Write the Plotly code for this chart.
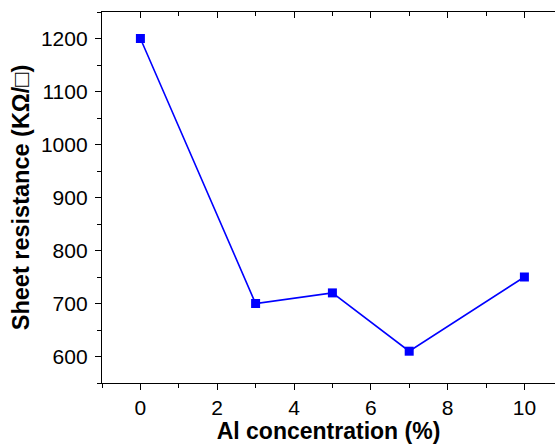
import plotly.graph_objects as go

# Sheet resistance vs. Al doping level
al_concentration = [0, 3, 5, 7, 10]          # Al concentration (%)
sheet_resistance = [1200, 700, 720, 610, 750]  # KΩ/□

x_tickvals = [0, 2, 4, 6, 8, 10]
y_tickvals = [600, 700, 800, 900, 1000, 1100, 1200]

FONT = "Arial, Liberation Sans, sans-serif"
BLUE = "#0000FF"

fig = go.Figure()
fig.add_trace(go.Scatter(
    x=al_concentration,
    y=sheet_resistance,
    mode="lines+markers",
    line=dict(color=BLUE, width=1.6),
    marker=dict(symbol="square", size=9, color=BLUE),
    showlegend=False,
    cliponaxis=False,
))

# companion axis drawing the top frame line with inward ticks
fig.add_trace(go.Scatter(x=[None], y=[None], xaxis="x2", showlegend=False, hoverinfo="skip"))

axis_common = dict(
    showgrid=False,
    zeroline=False,
    showline=True,
    linecolor="black",
    linewidth=1.3,
    tickcolor="black",
    tickwidth=1.3,
)

fig.update_layout(
    width=555,
    height=444,
    margin=dict(l=102, r=0, t=12, b=61),
    paper_bgcolor="white",
    plot_bgcolor="white",
    font=dict(family=FONT, size=21, color="black"),
    xaxis=dict(
        **axis_common,
        range=[-1, 10.797],
        tickvals=x_tickvals,
        ticks="outside",
        ticklen=6,
        minor=dict(dtick=1, tick0=-1, ticks="outside", ticklen=3.5,
                   tickcolor="black", tickwidth=1.3),
        tickfont=dict(size=21),
        title=dict(text="<b>Al concentration (%)</b>", font=dict(size=23), standoff=2),
    ),
    xaxis2=dict(
        **axis_common,
        overlaying="x",
        matches="x",
        side="top",
        tickvals=x_tickvals,
        ticks="inside",
        ticklen=6,
        minor=dict(dtick=1, tick0=-1, ticks="inside", ticklen=3.5,
                   tickcolor="black", tickwidth=1.3),
        showticklabels=False,
    ),
    yaxis=dict(
        **axis_common,
        range=[550, 1250],
        tickvals=y_tickvals,
        ticks="outside",
        ticklen=6,
        ticklabelstandoff=3,
        minor=dict(dtick=50, tick0=550, ticks="outside", ticklen=3.5,
                   tickcolor="black", tickwidth=1.3),
        tickfont=dict(size=21),
        title=dict(text="<b>Sheet resistance (KΩ/□)</b>", font=dict(size=23.5), standoff=4),
    ),
)

fig.write_html("out.html")
